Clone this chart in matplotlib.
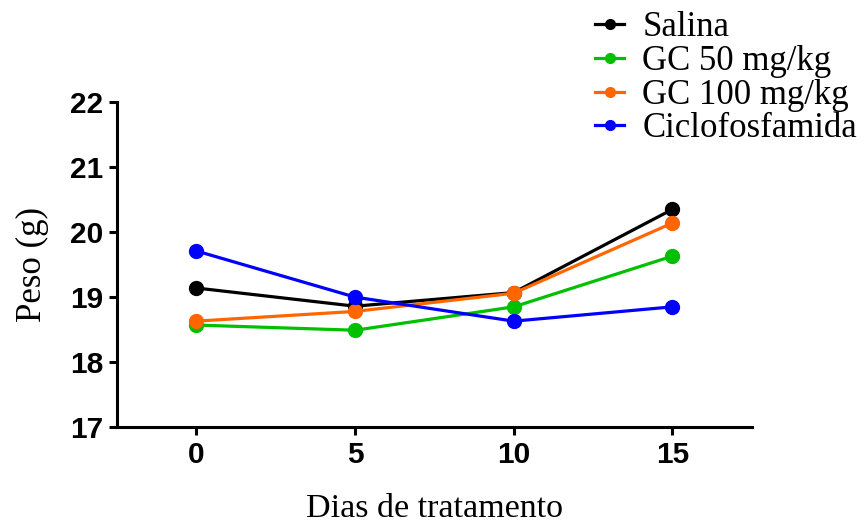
import matplotlib
matplotlib.use("Agg")
import matplotlib.pyplot as plt

days = [0, 5, 10, 15]
salina = [19.14, 18.86, 19.07, 20.35]
gc50 = [18.57, 18.49, 18.85, 19.63]
gc100 = [18.63, 18.78, 19.06, 20.14]
ciclo = [19.71, 19.00, 18.63, 18.85]

series = [
    ("Salina", salina, "#000000"),
    ("GC 50 mg/kg", gc50, "#00C000"),
    ("GC 100 mg/kg", gc100, "#FF6600"),
    ("Ciclofosfamida", ciclo, "#0000FF"),
]

fig = plt.figure(figsize=(8.67, 5.24), dpi=100)
ax = fig.add_axes([0.135, 0.185, 0.732, 0.62])

for name, vals, col in series:
    ax.plot(days, vals, color=col, lw=2.3, marker="o", ms=10, label=name)

ax.set_xlim(-2.5, 17.5)
ax.set_ylim(17, 22)
ax.set_xticks(days)
ax.set_yticks([17, 18, 19, 20, 21, 22])
for s in ["top", "right"]:
    ax.spines[s].set_visible(False)
for s in ["left", "bottom"]:
    ax.spines[s].set_linewidth(2.2)
ax.tick_params(width=2.2, length=6, direction="out", pad=4)
for lab in ax.get_xticklabels() + ax.get_yticklabels():
    lab.set_fontfamily("Liberation Sans")
    lab.set_fontweight("bold")
    lab.set_fontsize(21.5)

ax.set_xlabel("Dias de tratamento", family="Liberation Serif", fontsize=24.5, labelpad=18)
ax.set_ylabel("Peso (g)", family="Liberation Serif", fontsize=25, labelpad=15)

leg = fig.legend(loc="upper left", bbox_to_anchor=(0.670, 1.005), frameon=False,
                 prop={"family": "Liberation Serif", "size": 25},
                 handlelength=0.85, handletextpad=0.52, labelspacing=0.02,
                 borderaxespad=0.0)
for h in leg.legend_handles:
    h.set_markersize(7)
    h.set_linewidth(2.3)

fig.savefig("out.png", dpi=100)
